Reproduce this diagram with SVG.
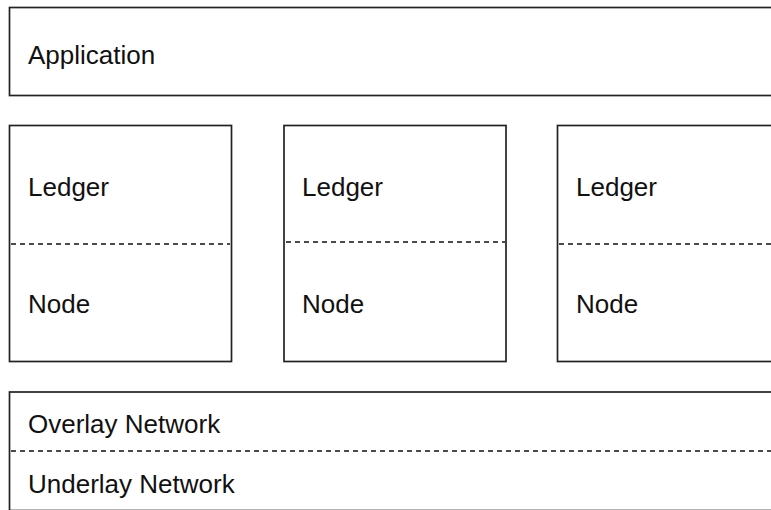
<svg xmlns="http://www.w3.org/2000/svg" width="771" height="510" viewBox="0 0 771 510">
  <style>
    .box { fill: #ffffff; stroke: #222222; stroke-width: 1.7; }
    .sep { stroke: #111111; stroke-width: 1.4; stroke-dasharray: 5 4; fill: none; }
    .label { font-family: "Liberation Sans", Arial, Helvetica, sans-serif; font-size: 26px; fill: #111111; }
  </style>
  <rect width="771" height="510" fill="#ffffff"/>

  <!-- top layer -->
  <g id="application">
    <rect class="box" x="9.5" y="7.5" width="800" height="88"/>
    <text class="label" x="28" y="64">Application</text>
  </g>

  <!-- peer stacks -->
  <g id="peer-1">
    <rect class="box" x="9.5" y="125.5" width="222" height="236"/>
    <line class="sep" x1="11" y1="244" x2="230" y2="244"/>
    <text class="label" x="28" y="196">Ledger</text>
    <text class="label" x="28" y="313">Node</text>
  </g>
  <g id="peer-2">
    <rect class="box" x="284" y="125.5" width="222" height="236"/>
    <line class="sep" x1="286" y1="242" x2="505" y2="242"/>
    <text class="label" x="302" y="196">Ledger</text>
    <text class="label" x="302" y="313">Node</text>
  </g>
  <g id="peer-3">
    <rect class="box" x="557.5" y="125.5" width="260" height="236"/>
    <line class="sep" x1="559" y1="244" x2="771" y2="244"/>
    <text class="label" x="576" y="196">Ledger</text>
    <text class="label" x="576" y="313">Node</text>
  </g>

  <!-- network layers -->
  <g id="network">
    <rect class="box" x="9.5" y="392" width="800" height="118.5"/>
    <line class="sep" x1="11" y1="451" x2="771" y2="451"/>
    <text class="label" x="28" y="433">Overlay Network</text>
    <text class="label" x="28" y="493">Underlay Network</text>
  </g>

  <g id="connectors"></g>
</svg>
